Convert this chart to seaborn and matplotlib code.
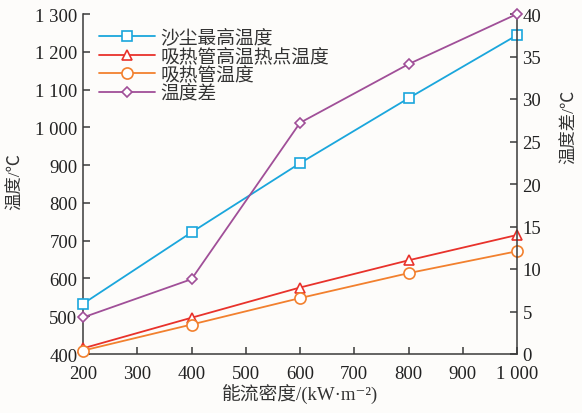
import matplotlib
matplotlib.use("Agg")
import matplotlib.pyplot as plt
import matplotlib.ticker as mticker
from matplotlib.lines import Line2D
import seaborn as sns
import pandas as pd

# Heat flux density (kW/m^2)
flux = [200, 400, 600, 800, 1000]
# Temperatures (°C)
dust_max = [533, 722, 905, 1077, 1244]
tube_hotspot = [415, 496, 576, 648, 715]
tube_temp = [409, 478, 548, 614, 672]
# Temperature difference (°C), right axis
temp_diff = [4.3, 8.8, 27.2, 34.1, 40.0]

names = ["沙尘最高温度", "吸热管高温热点温度", "吸热管温度", "温度差"]
colors = ["#1aa6dc", "#e8322b", "#f2802e", "#a04f98"]
markers = ["s", "^", "o", "D"]
msizes = [7, 7.5, 8, 5.5]

sns.set_theme(style="ticks")
fams = ["Liberation Serif", "Noto Sans CJK SC", "DejaVu Sans"]
plt.rcParams["font.family"] = fams
plt.rcParams["axes.unicode_minus"] = False

bg = "#fdfcfa"
fig = plt.figure(figsize=(5.82, 4.14), dpi=100, facecolor=bg)
ax = fig.add_axes([83 / 582, 1 - 355 / 414, (517 - 83) / 582, (355 - 15) / 414])
ax.set_facecolor(bg)
ax2 = ax.twinx()

df = pd.DataFrame({"flux": flux, names[0]: dust_max, names[1]: tube_hotspot,
                   names[2]: tube_temp, names[3]: temp_diff})

handles = []
for i, name in enumerate(names):
    target = ax2 if i == 3 else ax
    style = dict(color=colors[i], marker=markers[i], markersize=msizes[i],
                 markerfacecolor="white", markeredgecolor=colors[i],
                 markeredgewidth=1.2, linewidth=1.3)
    sns.lineplot(data=df, x="flux", y=name, ax=target, clip_on=False,
                 zorder=3, **style)
    handles.append(Line2D([], [], **style))

ax.set_xlim(200, 1000)
ax.set_ylim(400, 1300)
ax2.set_ylim(0, 40)

ax.set_xticks(range(200, 1001, 100))
ax.set_yticks(range(400, 1301, 100))
ax2.set_yticks(range(0, 41, 5))


def spaced(v, pos):
    return f"{int(round(v)):,}".replace(",", " ")


ax.xaxis.set_major_formatter(mticker.FuncFormatter(spaced))
ax.yaxis.set_major_formatter(mticker.FuncFormatter(spaced))

spine_c = "#3a3a3a"
for a in (ax, ax2):
    for s in a.spines.values():
        s.set_color(spine_c)
        s.set_linewidth(1.1)
    a.spines["top"].set_visible(False)
    a.tick_params(direction="in", length=5, width=1.1, color=spine_c,
                  labelsize=13.5, labelcolor="#222222", pad=4)
ax.tick_params(axis="x", pad=8)
ax.spines["right"].set_visible(False)
ax2.spines["left"].set_visible(False)
ax2.spines["bottom"].set_visible(False)

lab = dict(fontsize=12.5, color="#333333", family=fams)
ax.set_xlabel("能流密度/(kW·m⁻²)", labelpad=1, fontsize=13.5,
              color="#333333", family=fams)
ax.set_ylabel("温度/℃", **lab)
ax.yaxis.set_label_coords(-0.135, 0.51)
ax2.set_ylabel("温度差/℃", rotation=90, **lab)
ax2.yaxis.set_label_coords(1.105, 0.67)

leg = ax.legend(handles, names, loc="upper left", bbox_to_anchor=(0.01, 0.99),
                frameon=False, handlelength=3.0, handletextpad=0.3,
                labelspacing=0.05, borderaxespad=0.2,
                prop={"family": fams, "size": 13.5})
for t in leg.get_texts():
    t.set_color("#333333")

fig.savefig("out.png", dpi=100, facecolor=bg)
